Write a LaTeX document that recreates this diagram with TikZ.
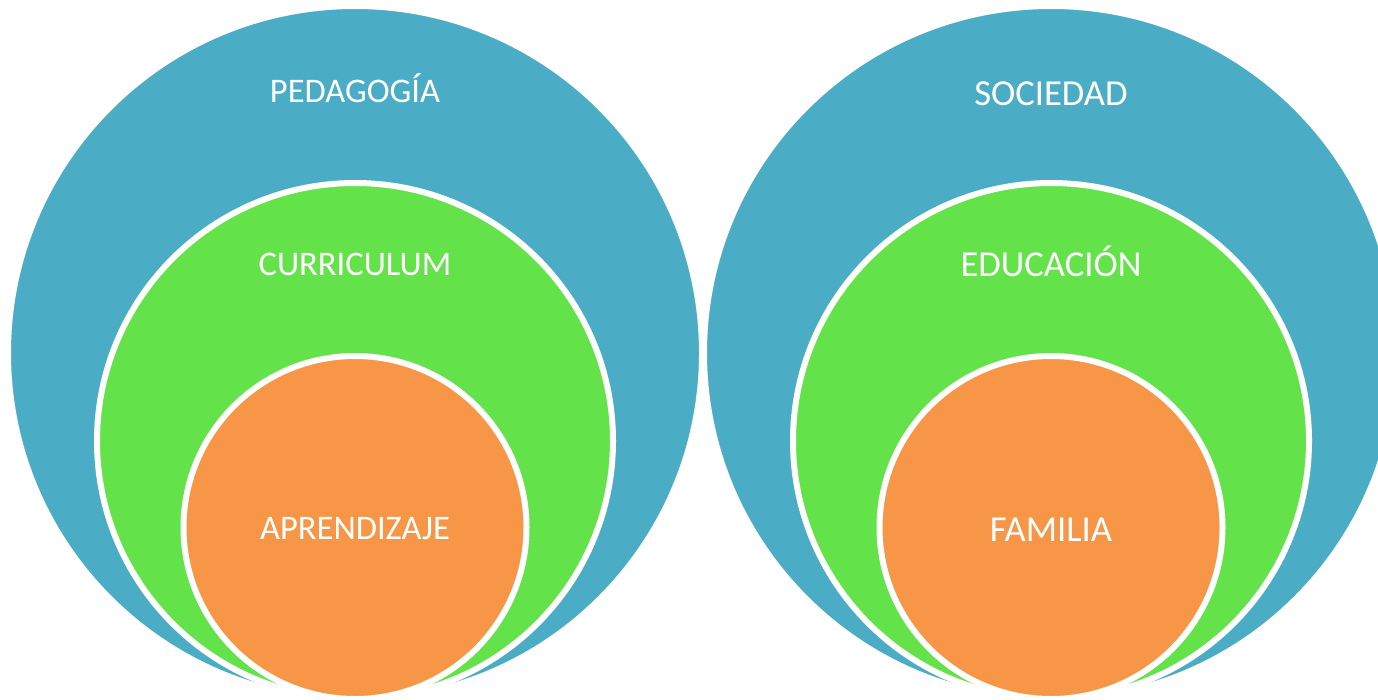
\documentclass[tikz,border=0pt]{standalone}
\usepackage{fontspec}
\setmainfont{Carlito}
\definecolor{cblue}{HTML}{4BACC6}
\definecolor{cgreen}{HTML}{63E24A}
\definecolor{corange}{HTML}{F79646}
\begin{document}
\begin{tikzpicture}[x=1pt,y=-1pt,
  ring/.style={circle, draw=white, line width=6pt, inner sep=0pt, outer sep=0pt},
  lbl/.style={text=white, font=\fontsize{34.5}{38}\selectfont, anchor=base, inner sep=0pt},
  lblr/.style={lbl, font=\fontsize{36.6}{40}\selectfont}]
\useasboundingbox (0,0) rectangle (1378,699);
\clip (0,0) rectangle (1378,699);
% left group
\node[ring, fill=cblue, minimum size=694pt] (pb) at (355,353) {};
\node[ring, fill=cgreen, minimum size=516pt] (pg) at (355,441) {};
\node[ring, fill=corange, minimum size=343pt] (po) at (355,527.5) {};
\node[lbl] (t1) at (355,102.5) {PEDAGOGÍA};
\node[lbl] (t2) at (355,275.5) {CURRICULUM};
\node[lbl] (t3) at (355,539.5) {APRENDIZAJE};
% right group
\node[ring, fill=cblue, minimum size=694pt] (sb) at (1051,353) {};
\node[ring, fill=cgreen, minimum size=516pt] (sg) at (1051,441) {};
\node[ring, fill=corange, minimum size=343pt] (so) at (1051,527.5) {};
\node[lblr] (t4) at (1051,105.5) {SOCIEDAD};
\node[lblr] (t5) at (1051,276.5) {EDUCACIÓN};
\node[lblr] (t6) at (1051,541.5) {FAMILIA};
\end{tikzpicture}
\end{document}
